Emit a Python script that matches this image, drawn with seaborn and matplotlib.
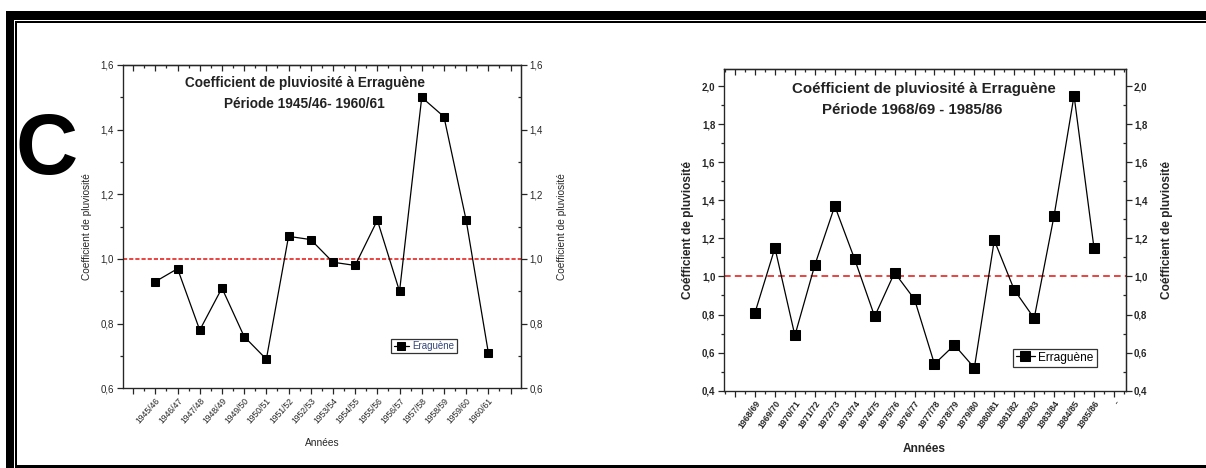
import matplotlib
matplotlib.use("Agg")
import matplotlib.pyplot as plt
from matplotlib.patches import Rectangle
from matplotlib.ticker import FixedLocator, MultipleLocator, FuncFormatter
import numpy as np
import pandas as pd
import seaborn as sns

# --- data -------------------------------------------------------------
years_a = ["1945/46", "1946/47", "1947/48", "1948/49", "1949/50", "1950/51",
           "1951/52", "1952/53", "1953/54", "1954/55", "1955/56", "1956/57",
           "1957/58", "1958/59", "1959/60", "1960/61"]
coef_a = [0.93, 0.97, 0.78, 0.91, 0.76, 0.69, 1.07, 1.06, 0.99, 0.98,
          1.12, 0.90, 1.50, 1.44, 1.12, 0.71]

years_b = ["1968/69", "1969/70", "1970/71", "1971/72", "1972/73", "1973/74",
           "1974/75", "1975/76", "1976/77", "1977/78", "1978/79", "1979/80",
           "1980/81", "1981/82", "1982/83", "1983/84", "1984/85", "1985/86"]
coef_b = [0.81, 1.15, 0.69, 1.06, 1.37, 1.09, 0.79, 1.02, 0.88, 0.54,
          0.64, 0.52, 1.19, 0.93, 0.78, 1.32, 1.95, 1.15]

reference_level = 1.0

sns.set_style("ticks")
plt.rcParams["font.family"] = ["Liberation Sans", "DejaVu Sans"]

W, H = 1206, 468
fig = plt.figure(figsize=(W / 100, H / 100), dpi=100)


def px_axes(x0, y0, x1, y1):
    return fig.add_axes([x0 / W, 1 - y1 / H, (x1 - x0) / W, (y1 - y0) / H])


comma = FuncFormatter(lambda v, p: f"{v:.1f}".replace(".", ","))


def draw_panel(ax, labels, values, ylim, xlim, title, ylabel, legend_label,
               legend_xy, fs_xtick, fs_ytick, fs_lab, fs_title, title_xy, rot,
               ms, dash, legend_fs, legend_color, bold_ticks, extra_label=None,
               ylab_pad=4, xlab_pad=2):
    n = len(labels)
    df = pd.DataFrame({"idx": np.arange(n), "coef": values})
    sns.lineplot(data=df, x="idx", y="coef", ax=ax, color="black", lw=0.9,
                 marker="s", markersize=ms, markeredgecolor="black",
                 markerfacecolor="black", label=legend_label, legend=False)
    ax.axhline(reference_level, color="#e8231f", lw=1.2, ls=(0, dash), zorder=1)
    ax.set_xlim(*xlim)
    ax.set_ylim(*ylim)

    weight = "bold" if bold_ticks else "normal"
    ticks = list(range(-1, n + 1))
    minor = [t + 0.5 for t in range(-2, n + 1)]
    ax.xaxis.set_major_locator(FixedLocator(ticks))
    tick_labels = [""] + labels + [extra_label if extra_label else ""]
    ax.set_xticklabels(tick_labels, rotation=rot, ha="right",
                       rotation_mode="anchor", fontsize=fs_xtick,
                       fontweight=weight)
    ax.xaxis.set_minor_locator(FixedLocator(minor))
    ax.yaxis.set_major_locator(MultipleLocator(0.2))
    ax.yaxis.set_minor_locator(MultipleLocator(0.1))
    ax.yaxis.set_major_formatter(comma)
    ax.tick_params(axis="both", which="major", direction="out", length=4,
                   width=0.9, pad=2)
    ax.tick_params(axis="y", labelsize=fs_ytick)
    ax.tick_params(axis="both", which="minor", direction="out", length=2.5,
                   width=0.9)
    for lab in ax.get_yticklabels():
        lab.set_fontweight(weight)
    ax.set_xlabel("Années", fontsize=fs_lab, labelpad=xlab_pad, fontweight=weight)
    ax.set_ylabel(ylabel, fontsize=fs_lab, labelpad=ylab_pad, fontweight=weight)
    for s in ax.spines.values():
        s.set_visible(True)
        s.set_linewidth(0.9)
        s.set_color("#222222")

    top = ax.secondary_xaxis("top")
    top.xaxis.set_major_locator(FixedLocator(ticks))
    top.xaxis.set_minor_locator(FixedLocator(minor))
    top.tick_params(which="major", direction="in", length=4, width=0.9,
                    labeltop=False)
    top.tick_params(which="minor", direction="in", length=2.5, width=0.9)
    top.spines["top"].set_linewidth(0.9)

    right = ax.twinx()
    right.set_ylim(*ylim)
    right.yaxis.set_major_locator(MultipleLocator(0.2))
    right.yaxis.set_minor_locator(MultipleLocator(0.1))
    right.yaxis.set_major_formatter(comma)
    right.tick_params(which="major", direction="out", length=4, width=0.9,
                      labelsize=fs_ytick, pad=2)
    right.tick_params(which="minor", direction="in", length=2.5, width=0.9)
    for lab in right.get_yticklabels():
        lab.set_fontweight(weight)
    right.set_ylabel(ylabel, fontsize=fs_lab, labelpad=ylab_pad + 4,
                     fontweight=weight)
    right.spines["right"].set_linewidth(0.9)

    for (tx, ty), line in zip(title_xy, title):
        ax.text(tx, ty, line, transform=ax.transAxes, ha="center", va="center",
                fontsize=fs_title, fontweight="bold", color="#222222")

    leg = ax.legend(loc="center", bbox_to_anchor=legend_xy, fontsize=legend_fs,
                    frameon=True, fancybox=False, handlelength=1.6,
                    handletextpad=0.3, borderpad=0.25, borderaxespad=0)
    leg.get_frame().set_edgecolor("black")
    leg.get_frame().set_linewidth(0.9)
    for t in leg.get_texts():
        t.set_color(legend_color)
    return ax


ax1 = px_axes(122.5, 65, 521.2, 388.3)
draw_panel(ax1, years_a, coef_a, (0.6, 1.6), (-1.48, 16.48),
           ("Coefficient de pluviosité à Erraguène", "Période 1945/46- 1960/61"),
           "Coefficient de pluviosité",
           "Eraguène", (0.756, 0.131), fs_xtick=6.2, fs_ytick=7, fs_lab=7.3,
           fs_title=9.8, title_xy=((0.458, 0.944), (0.456, 0.879)), rot=48,
           ms=6.2, dash=(2.5, 1.2), legend_fs=7, legend_color="#34467a",
           bold_ticks=False, ylab_pad=6, xlab_pad=9)

ax2 = px_axes(723.7, 69.3, 1125.7, 390.7)
draw_panel(ax2, years_b, coef_b, (0.4, 2.088), (-1.57, 18.59),
           ("Coéfficient de pluviosité à Erraguène", "Période 1968/69 - 1985/86"),
           "Coéfficient de pluviosité",
           "Erraguène", (0.823, 0.103), fs_xtick=6.4, fs_ytick=7, fs_lab=8.6,
           fs_title=10.8, title_xy=((0.498, 0.939), (0.468, 0.873)), rot=55,
           ms=7, dash=(4, 2.5), legend_fs=8.6, legend_color="black",
           bold_ticks=True, extra_label="-", ylab_pad=6, xlab_pad=9)

# panel letter
fig.text(47 / W, 1 - 152 / H, "C", fontsize=62, fontweight="bold",
         ha="center", va="center", color="black")

# page frame: thick outer rule with a thin inner rule
def frame_rect(x0, y0, x1, y1):
    fig.add_artist(Rectangle((x0 / W, 1 - y1 / H), (x1 - x0) / W, (y1 - y0) / H,
                             transform=fig.transFigure, color="black", lw=0))

frame_rect(6, 11, W, 20)      # top thick
frame_rect(6, 11, 14, H)      # left thick
frame_rect(15, 21, W, 22.5)   # top thin
frame_rect(15, 21, 16.5, H)   # left thin
frame_rect(15, 464.5, W, H)   # bottom

fig.savefig("out.png", dpi=100, facecolor="white")
